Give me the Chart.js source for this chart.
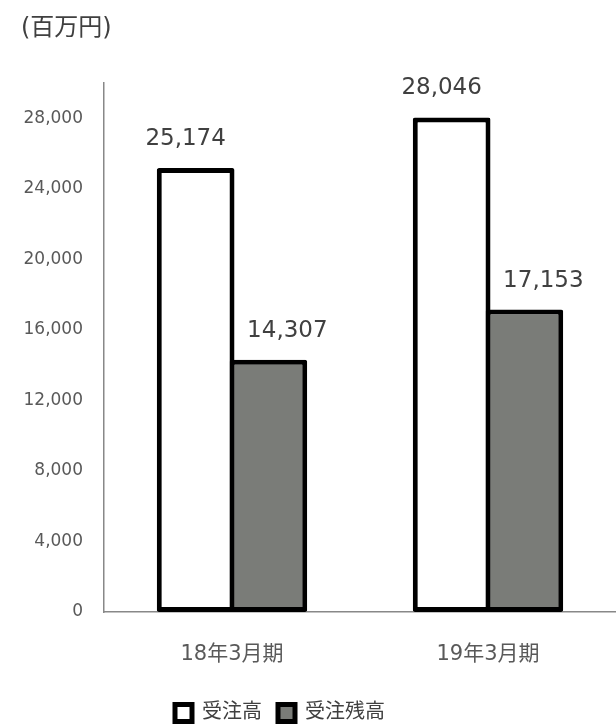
<!DOCTYPE html>
<html>
<head>
<meta charset="utf-8">
<script src="https://cdn.jsdelivr.net/npm/chart.js@4/dist/chart.umd.min.js"></script>
<style>
html,body{margin:0;padding:0;background:#fff;}
#wrap{width:616px;height:728px;position:relative;}
</style>
</head>
<body>
<div id="wrap"><canvas id="c" width="616" height="728"></canvas></div>
<script>
const categories = ['18年3月期', '19年3月期'];
const orders = [25174, 28046];
const backlog = [14307, 17153];
const seriesNames = ['受注高', '受注残高'];
const unitLabel = '(百万円)';
const yMax = 30000;
const yTicks = [0, 4000, 8000, 12000, 16000, 20000, 24000, 28000];

const FONT = '"DejaVu Sans", "Noto Sans CJK JP", sans-serif';
// horizontal nudge of value labels per series (px)
const LABEL_DX = [-10, 19];

const valueLabels = {
  id: 'valueLabels',
  afterDatasetsDraw(chart) {
    const ctx = chart.ctx;
    ctx.save();
    ctx.font = '23px ' + FONT;
    ctx.fillStyle = '#404040';
    ctx.textAlign = 'center';
    ctx.textBaseline = 'middle';
    chart.data.datasets.forEach((ds, i) => {
      const meta = chart.getDatasetMeta(i);
      meta.data.forEach((bar, j) => {
        ctx.fillText(ds.data[j].toLocaleString('en-US'), bar.x + LABEL_DX[i], bar.y - 29);
      });
    });
    ctx.restore();
  }
};

const unitTitle = {
  id: 'unitTitle',
  afterDraw(chart) {
    const ctx = chart.ctx;
    ctx.save();
    ctx.font = '24px ' + FONT;
    ctx.fillStyle = '#404040';
    ctx.textAlign = 'left';
    ctx.textBaseline = 'middle';
    ctx.fillText(unitLabel, 21, 29);
    ctx.restore();
  }
};

const legendShift = {
  id: 'legendShift',
  afterLayout(chart) {
    if (chart.legend) {
      chart.legend.left -= 28;
      chart.legend.right -= 28;
    }
  }
};

new Chart(document.getElementById('c'), {
  type: 'bar',
  data: {
    labels: categories,
    datasets: [
      {
        label: seriesNames[0],
        data: orders,
        backgroundColor: '#ffffff',
        borderColor: '#000000',
        borderWidth: 5,
        borderSkipped: false,
        borderRadius: 2,
        categoryPercentage: 0.568,
        barPercentage: 1.069
      },
      {
        label: seriesNames[1],
        data: backlog,
        backgroundColor: '#7a7c78',
        borderColor: '#000000',
        borderWidth: 5,
        borderSkipped: false,
        borderRadius: 2,
        categoryPercentage: 0.568,
        barPercentage: 1.069
      }
    ]
  },
  options: {
    responsive: false,
    animation: false,
    devicePixelRatio: 1,
    layout: { padding: { top: 83, left: 0, right: 0, bottom: 0 } },
    plugins: {
      tooltip: { enabled: false },
      title: { display: false },
      legend: {
        position: 'bottom',
        maxHeight: 41,
        labels: {
          font: { family: FONT, size: 20 },
          color: '#404040',
          boxWidth: 17,
          boxHeight: 17,
          padding: 16
        }
      }
    },
    scales: {
      x: {
        grid: { display: false, drawTicks: false },
        border: { display: true, color: '#888888', width: 1.5 },
        ticks: {
          font: { family: FONT, size: 21 },
          color: '#595959',
          padding: 30
        },
        afterFit(scale) { scale.height = 75; }
      },
      y: {
        min: 0,
        max: yMax,
        grid: { display: false, drawTicks: false },
        border: { display: true, color: '#888888', width: 1.5 },
        afterBuildTicks(scale) { scale.ticks = yTicks.map(v => ({ value: v })); },
        ticks: {
          autoSkip: false,
          font: { family: FONT, size: 17 },
          color: '#595959',
          padding: 21,
          callback(v) { return Number(v).toLocaleString('en-US'); }
        },
        afterFit(scale) { scale.width = 104; }
      }
    }
  },
  plugins: [valueLabels, unitTitle, legendShift]
});
</script>
</body>
</html>
